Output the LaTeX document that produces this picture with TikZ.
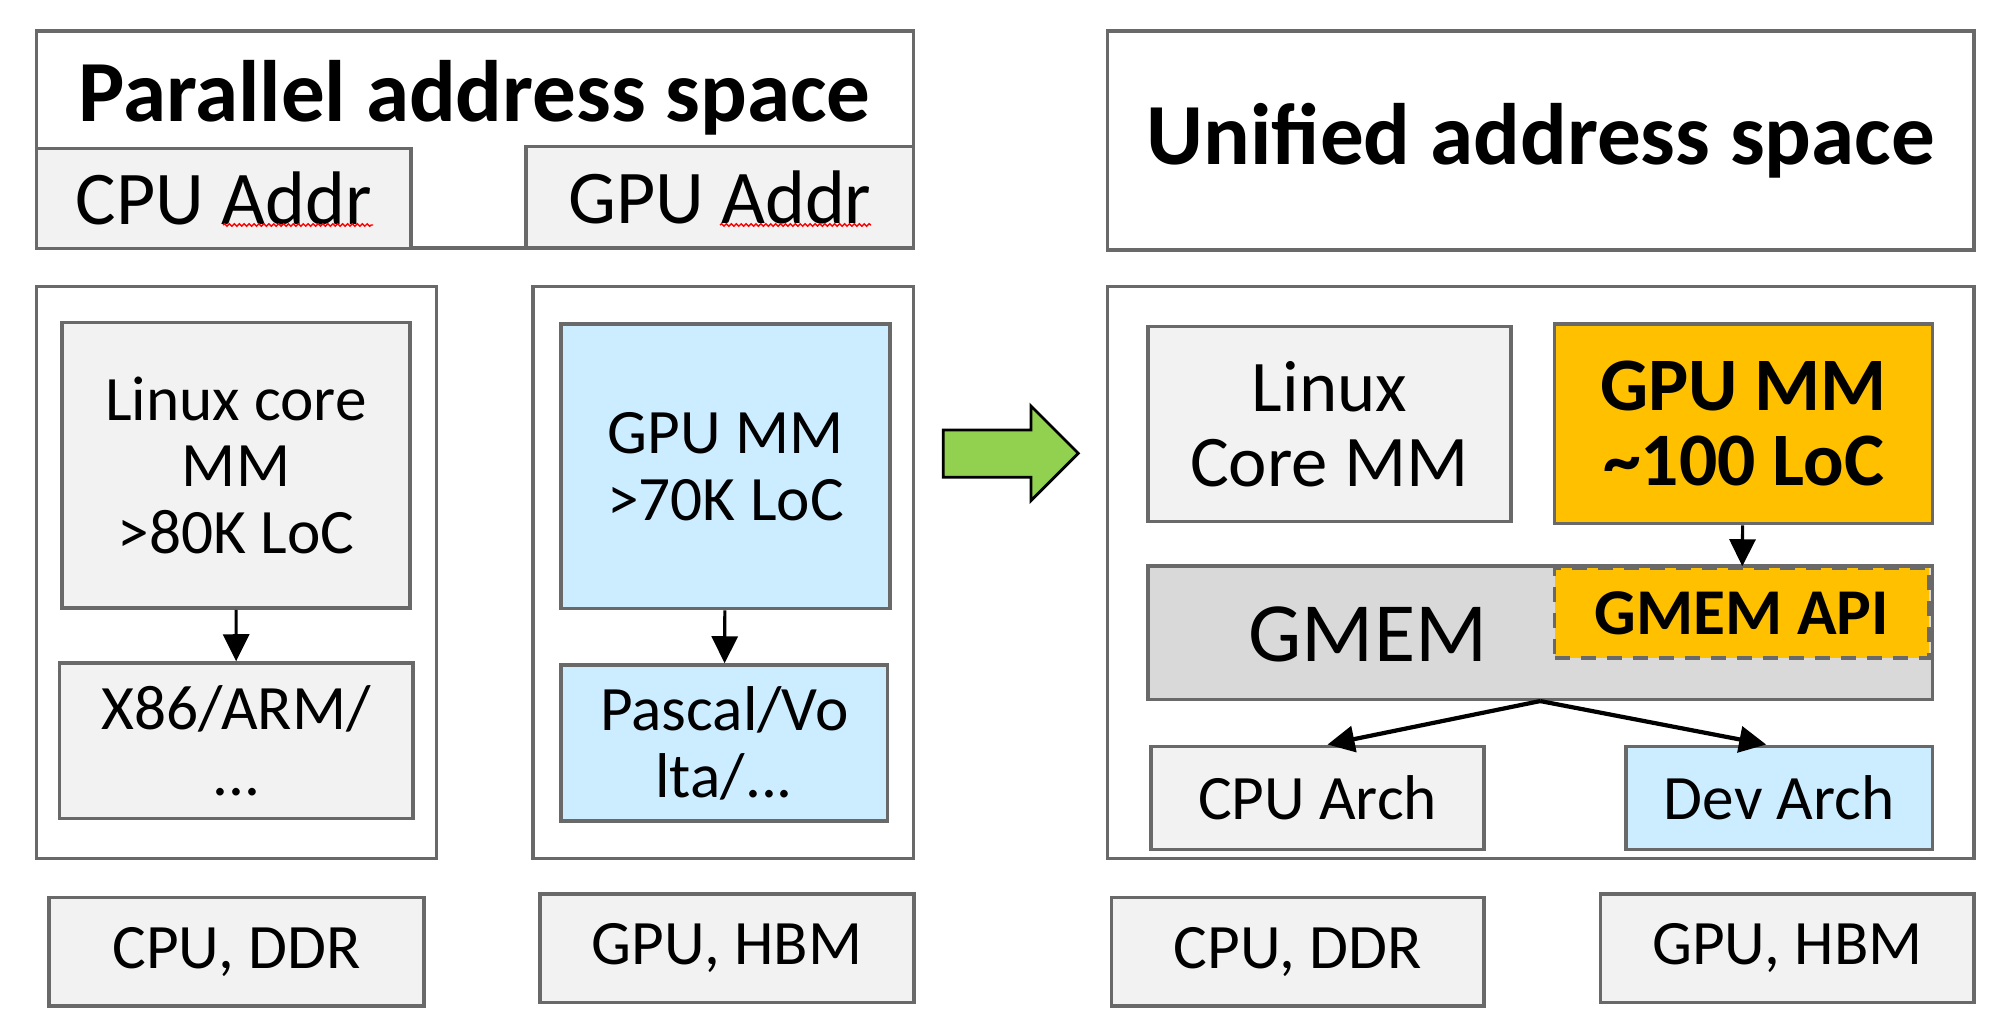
\documentclass[tikz,border=0pt]{standalone}
\usepackage{fontspec}
\setmainfont{Carlito}
\usetikzlibrary{arrows.meta,decorations.pathmorphing}

\definecolor{edge}{RGB}{105,105,105}
\definecolor{light}{RGB}{242,242,242}
\definecolor{sky}{RGB}{204,236,255}
\definecolor{amber}{RGB}{255,192,0}
\definecolor{gmemgray}{RGB}{217,217,217}
\definecolor{arrowgreen}{RGB}{146,208,80}

\tikzset{bb/.style={draw=edge, line width=1pt, inner sep=0pt, align=center, font=\fontsize{18}{19}\selectfont},
    hd/.style={font=\fontsize{24.8}{26}\selectfont\bfseries},
    link/.style={-{Triangle[length=2.7mm, width=2.6mm]}, line width=0.9pt, black},
    squig/.style={red, line width=0.4pt, decorate, decoration={snake, amplitude=0.35pt, segment length=1.4pt}}}

\begin{document}
\begin{tikzpicture}[]
    \useasboundingbox (0,0) rectangle (20.09,-10.25);

    \node[bb, minimum width=8.77cm, minimum height=2.17cm](par) at (4.751,-1.394) {};
    \node[hd, anchor=base] (partitle) at (4.745,-1.217) {Parallel address space};

    \node[bb, fill=light, minimum width=3.745cm, minimum height=1.0cm, font=\fontsize{21.6}{22}\selectfont] (cpuaddr) at (2.2375,-1.983) {CPU Addr};
    \node[bb, fill=light, minimum width=3.877cm, minimum height=1.013cm, font=\fontsize{21.6}{22}\selectfont] (gpuaddr) at (7.1985,-1.9735) {GPU Addr};

    \draw[squig] (2.23,-2.25) -- (3.73,-2.25);
    \draw[squig] (7.20,-2.25) -- (8.71,-2.25);

    \node[bb, minimum width=4.002cm, minimum height=5.72cm] (cpuside) at (2.366,-5.727) {};
    \node[bb, minimum width=3.807cm, minimum height=5.72cm] (gpuside) at (7.2335,-5.727) {};

    \node[bb, fill=light, minimum width=3.48cm, minimum height=2.853cm] (lcore) at (2.36,-4.6535) {Linux core\\MM\\>80K LoC};
    \node[bb, fill=light, minimum width=3.535cm, minimum height=1.557cm] (x86) at (2.3625,-7.4085) {X86/ARM/\\...};

    \node[bb, fill=sky, minimum width=3.29cm, minimum height=2.847cm] (gpumm) at (7.255,-4.6635) {GPU MM\\>70K LoC};
    \node[bb, fill=sky, minimum width=3.265cm, minimum height=1.56cm] (pascal) at (7.2425,-7.43) {Pascal/Vo\\lta/...};

    \node[bb, fill=light, minimum width=3.75cm, minimum height=1.083cm] (cpuddr) at (2.365,-9.5185) {CPU, DDR};
    \node[bb, fill=light, minimum width=3.74cm, minimum height=1.087cm] (gpuhbm) at (7.27,-9.4835) {GPU, HBM};

    \draw[black, line width=0.8pt, fill=arrowgreen] (9.433,-4.30) -- (10.31,-4.30) -- (10.31,-4.06) -- (10.783,-4.533) -- (10.31,-5.007) -- (10.31,-4.773) -- (9.433,-4.773) -- cycle;

    \node[bb, hd, minimum width=8.663cm, minimum height=2.19cm] (uni) at (15.4085,-1.405) {Unified address space};
    \node[bb, minimum width=8.663cm, minimum height=5.72cm] (uniside) at (15.4085,-5.727) {};

    \node[bb, fill=light, minimum width=3.63cm, minimum height=1.946cm, font=\fontsize{20.7}{21.3}\selectfont] (linux) at (13.295,-4.24) {Linux\\Core MM};
    \node[bb, fill=amber, minimum width=3.777cm, minimum height=1.997cm, font=\fontsize{21.5}{21.3}\selectfont\bfseries] (newmm) at (17.4355,-4.2385) {GPU MM\\\textasciitilde100 LoC};

    \node[bb, fill=gmemgray, minimum width=7.844cm, minimum height=1.333cm] (gmem) at (15.402,-6.3265) {};
    \node[anchor=base, font=\fontsize{24}{26}\selectfont] (gmemtxt) at (13.68,-6.617) {GMEM};
    \node[bb, dash pattern=on 1.5mm off 1.1mm, fill=amber, minimum width=3.743cm, minimum height=0.9cm, font=\fontsize{18.6}{20}\selectfont\bfseries] (api) at (17.4185,-6.13) {GMEM API};

    \node[bb, fill=light, minimum width=3.33cm, minimum height=1.034cm] (cpuarch) at (13.175,-7.98) {CPU Arch};
    \node[bb, fill=sky, minimum width=3.064cm, minimum height=1.034cm] (devarch) at (17.792,-7.98) {Dev Arch};

    \node[bb, fill=light, minimum width=3.724cm, minimum height=1.083cm] (cpuddr2) at (12.978,-9.5185) {CPU, DDR};
    \node[bb, fill=light, minimum width=3.733cm, minimum height=1.087cm] (gpuhbm2) at (17.8735,-9.4835) {GPU, HBM};

    \draw[link] (lcore) -- (x86);

    \draw[link] (gpumm) -- (pascal);

    \draw[link] (newmm) -- (api);

    \draw[link, line width=1.2pt] (gmem.south) -- ([xshift=0.1cm]cpuarch.north);

    \draw[link, line width=1.2pt] (gmem.south) -- ([xshift=-0.13cm]devarch.north);

\end{tikzpicture}
\end{document}
